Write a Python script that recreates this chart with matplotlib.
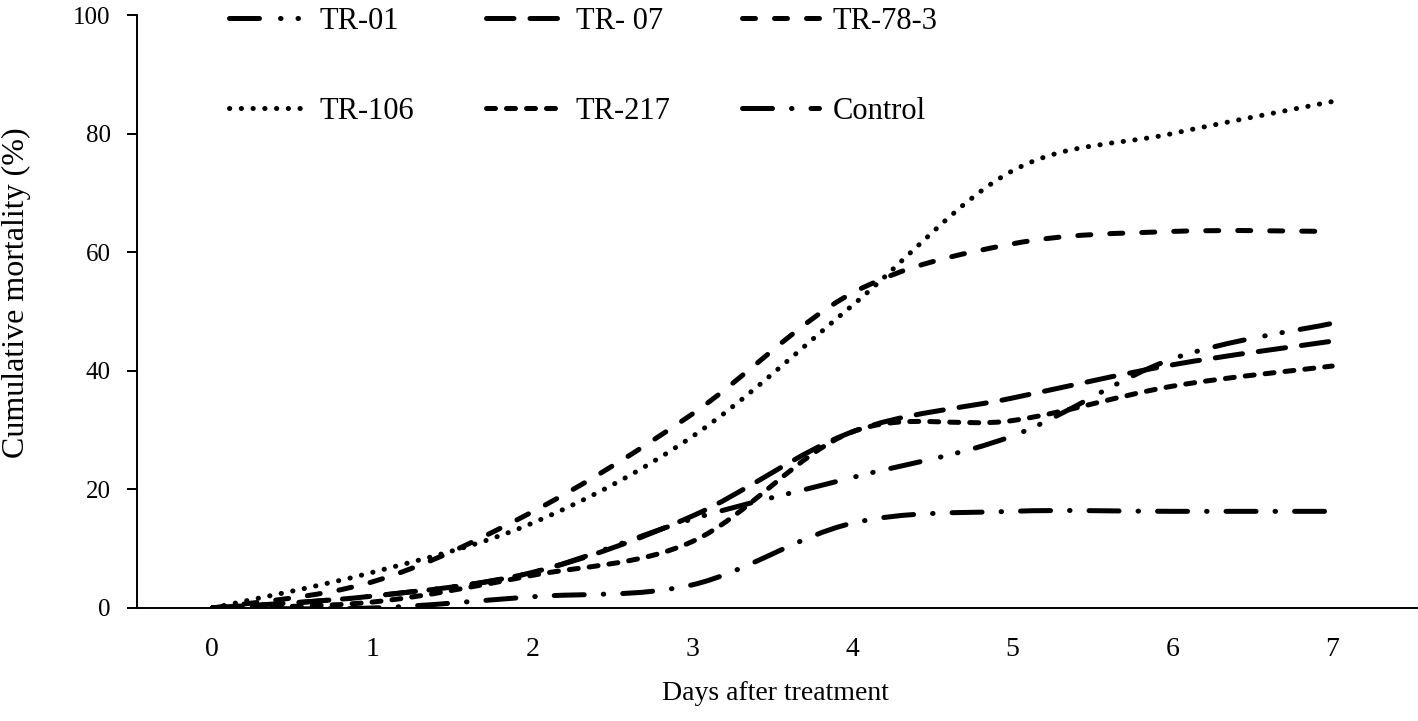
import numpy as np
import matplotlib
matplotlib.use("Agg")
import matplotlib.pyplot as plt
from matplotlib.path import Path
from matplotlib.patches import PathPatch
from matplotlib.lines import Line2D

plt.rcParams['font.family'] = ['Liberation Serif', 'DejaVu Serif']

days = [0, 1, 2, 3, 4, 5, 6, 7]
tr01 = [0, 2, 6, 15, 22, 29, 42, 48]
tr07 = [0, 2, 6, 15.5, 29.7, 35.4, 41, 45]
tr78_3 = [0, 4.4, 16.2, 32.7, 53.1, 61.4, 63.5, 63.5]
tr106 = [0, 6, 14.3, 28.9, 51, 73.7, 80, 85.4]
tr217 = [0, 1, 5.5, 11.2, 29.7, 31.6, 37.4, 40.8]
control = [0, 0, 1.9, 3.9, 14.3, 16.3, 16.3, 16.3]

labels = ["TR-01", "TR- 07", "TR-78-3", "TR-106", "TR-217", "Control"]
series = [tr01, tr07, tr78_3, tr106, tr217, control]
styles = [
    (0, (6, 4.2, 0.1, 3.4, 0.1, 3.6)),
    (0, (5.5, 3.2)),
    (0, (2.6, 3.8)),
    (0, (0.05, 2.3)),
    (0, (1.8, 2.2)),
    (0, (6, 3.8, 0.1, 3.8)),
]
LW = 3.6


def smooth_path(x, y):
    P = np.column_stack([x, y]).astype(float)
    n = len(P)
    verts = [P[0]]
    codes = [Path.MOVETO]
    for i in range(n - 1):
        p0 = P[i - 1] if i > 0 else P[i]
        p1 = P[i]
        p2 = P[i + 1]
        p3 = P[i + 2] if i + 2 < n else P[i + 1]
        c1 = p1 + (p2 - p0) / 6.0
        c2 = p2 - (p3 - p1) / 6.0
        verts += [c1, c2, p2]
        codes += [Path.CURVE4] * 3
    return Path(np.array(verts), codes)


fig = plt.figure(figsize=(14.18, 7.21), dpi=100)
ax = fig.add_axes([137 / 1418, 1 - 608 / 721, (1417 - 137) / 1418, (608 - 15) / 721])

handles = []
for lab, ys, ls in zip(labels, series, styles):
    patch = PathPatch(smooth_path(days, ys), fill=False, edgecolor='black',
                      linewidth=LW, linestyle=ls, capstyle='round', joinstyle='round')
    ax.add_patch(patch)
    handles.append(Line2D([], [], color='black', linewidth=LW, linestyle=ls,
                          dash_capstyle='round', label=lab))

ax.set_xlim(-0.47, 7.53)
ax.set_ylim(0, 100)
ax.set_xticks(days)
ax.set_yticks([0, 20, 40, 60, 80, 100])
for s in ['top', 'right']:
    ax.spines[s].set_visible(False)
for s in ['left', 'bottom']:
    ax.spines[s].set_linewidth(1.4)
ax.tick_params(axis='y', direction='out', length=7, width=1.4, pad=12, labelsize=18)
ax.tick_params(axis='x', length=0, pad=21, labelsize=20)

fig.text(775 / 1418, 1 - 693 / 721, "Days after treatment", ha='center', va='center', fontsize=20)
fig.text(16 / 1418, 1 - 293 / 721, "Cumulative mortality (%)", ha='center', va='center',
         rotation=90, fontsize=23)

# legend is filled column by column: reorder so it reads row by row
order = [0, 3, 1, 4, 2, 5]
leg = ax.legend(handles=[handles[i] for i in order], ncol=3, loc='upper left',
                bbox_to_anchor=(229 / 1418, 1 - 7 / 721), bbox_transform=fig.transFigure,
                frameon=False, fontsize=22, handlelength=2.5, handletextpad=0.45,
                columnspacing=2.35, labelspacing=2.0, borderpad=0, borderaxespad=0)

fig.savefig("out.png", dpi=100)
